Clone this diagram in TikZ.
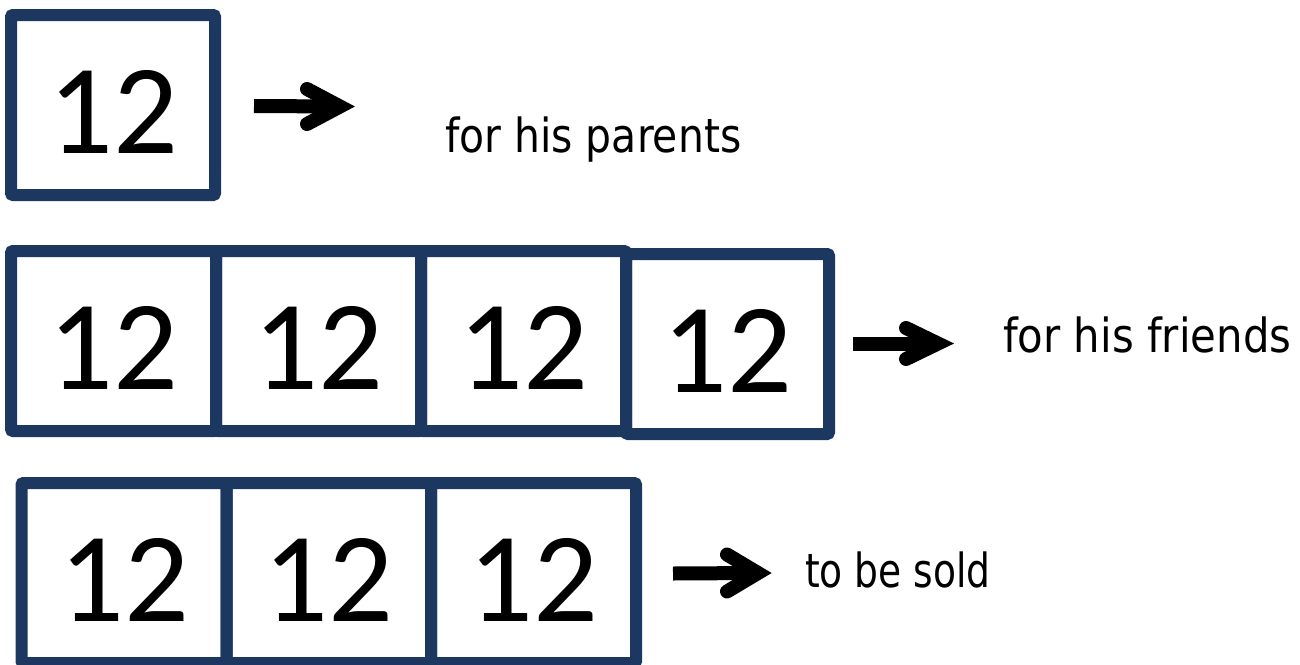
\documentclass[tikz,border=0pt]{standalone}
\usepackage{fontspec}
\usepackage{graphicx}
\newfontfamily\digitfont{Carlito}
\newfontfamily\labelfont{DejaVu Sans}
\definecolor{boxblue}{RGB}{29,56,96}
\begin{document}
\begin{tikzpicture}[x=1pt,y=-1pt,
  numbox/.style={draw=boxblue,line width=12pt,rounded corners=2pt,inner sep=0pt,
    minimum width=205pt,minimum height=180pt,
    font=\digitfont\fontsize{128}{128}\selectfont,text height=96pt,text depth=0pt},
  lbl/.style={anchor=base west,inner sep=0pt,font=\labelfont\fontsize{47}{47}\selectfont},
  shaft/.style={line width=14pt},
  barb/.style={line width=14pt,line cap=round,line join=miter}]
\useasboundingbox (0,0) rectangle (1300,664);
% row 1
\node[numbox,minimum width=204pt] (b1) at (113,105) {12};
% row 2
\node[numbox] (r2a) at (113.5,341) {12};
\node[numbox] (r2b) at (318.5,341) {12};
\node[numbox] (r2c) at (523.5,341) {12};
\node[numbox,minimum width=203pt] (r2d) at (727.5,344) {12};
% row 3
\node[numbox] (r3a) at (124,573) {12};
\node[numbox,minimum width=204.5pt] (r3b) at (328.75,573) {12};
\node[numbox] (r3c) at (533.5,573) {12};
% labels
\node[lbl] (l1) at (445,152) {\scalebox{0.87}[1]{for his parents}};
\node[lbl] (l2) at (1003,352) {\scalebox{0.89}[1]{for his friends}};
\node[lbl] (l3) at (805,587) {\scalebox{0.80}[1]{to be sold}};
% arrows
\coordinate (s1) at (254,106);
\coordinate (t1) at (340,106.5);
\draw[shaft] (s1) -- (t1);
\draw[barb] ([shift={(-33,-17.5)}]t1) -- (t1) -- ([shift={(-33,17.5)}]t1);
\coordinate (s2) at (853,343.5);
\coordinate (t2) at (938,343.5);
\draw[shaft] (s2) -- (t2);
\draw[barb] ([shift={(-32,-15.5)}]t2) -- (t2) -- ([shift={(-32,15.5)}]t2);
\coordinate (s3) at (673,573.5);
\coordinate (t3) at (758,573);
\draw[shaft] (s3) -- (t3);
\draw[barb] ([shift={(-31,-18.5)}]t3) -- (t3) -- ([shift={(-31,18.5)}]t3);
\end{tikzpicture}
\end{document}
